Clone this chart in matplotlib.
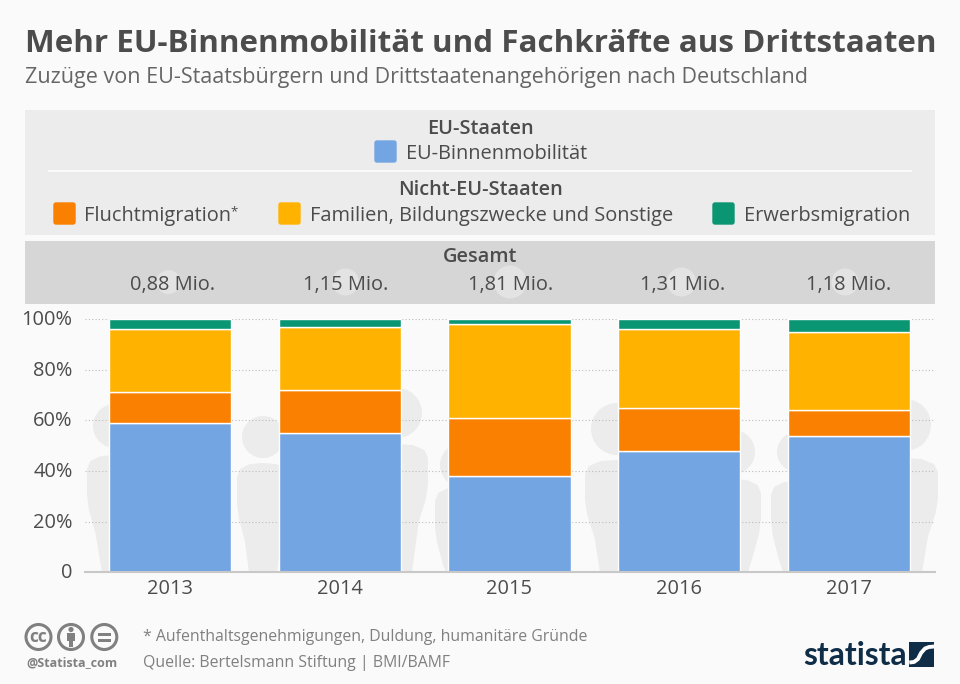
#!/usr/bin/env python3
"""Stacked share of migration to Germany by type, 2013-2017."""

import matplotlib
matplotlib.use("Agg")
import matplotlib.pyplot as plt
import numpy as np
from matplotlib.patches import Circle, FancyBboxPatch, Polygon, Rectangle
from matplotlib.transforms import Affine2D

plt.rcParams["font.family"] = ["Open Sans", "DejaVu Sans"]

years = ["2013", "2014", "2015", "2016", "2017"]
totals = ["0,88 Mio.", "1,15 Mio.", "1,81 Mio.", "1,31 Mio.", "1,18 Mio."]
eu_binnen = [59, 55, 38, 48, 54]
flucht = [12, 17, 23, 17, 10]
familien = [25, 25, 37, 31, 31]
erwerb = [4, 3, 2, 4, 5]
series_names = ["EU-Binnenmobilität", "Fluchtmigration", "Familien, Bildungszwecke und Sonstige", "Erwerbsmigration"]
colors = ["#74a5e3", "#f98000", "#ffb300", "#0b9673"]
y_ticks = [0, 20, 40, 60, 80, 100]
y_labels = ["0", "20%", "40%", "60%", "80%", "100%"]

BG = "#fafafa"
DARK = "#4c4c4c"
GREY = "#808080"
NAVY = "#0f2d47"
W, H = 960, 684
BASE = 572.3

fig = plt.figure(figsize=(W / 100, H / 100), dpi=100, facecolor=BG)

# overlay in pixel coordinates for the panels and all the loose text
bg = fig.add_axes([0, 0, 1, 1], zorder=0)
bg.set_xlim(0, W)
bg.set_ylim(H, 0)
bg.axis("off")
top = fig.add_axes([0, 0, 1, 1], zorder=3)
top.set_xlim(0, W)
top.set_ylim(H, 0)
top.axis("off")


def person(ax, cx, head_y, head_r, sh, hw, bw):
    """Grey silhouette behind the bars."""
    ax.add_patch(Circle((cx, head_y), head_r, color="#ececec", lw=0))
    right = [
        (0, sh), (0.5 * hw, sh + 1), (0.88 * hw, sh + 6), (hw, sh + 14), (hw, sh + 40),
        (0.93 * hw, sh + 55), (0.7 * hw, sh + 78), (bw, BASE),
    ]
    pts = [(cx + dx, y) for dx, y in right]
    pts += [(cx - dx, y) for dx, y in reversed(right[1:])]
    ax.add_patch(Polygon(pts, closed=True, color="#ececec", lw=0))


person(bg, 115, 426, 22, 455, 28, 13)
person(bg, 263, 437, 21, 463, 26, 14)
person(bg, 397, 413, 25, 444, 31, 15)
person(bg, 462, 465, 22, 487, 27, 16)
person(bg, 617, 429, 26, 460, 32, 17)
person(bg, 733, 452, 22, 479, 28, 15)
person(bg, 797, 452, 20, 481, 26, 14)
person(bg, 905, 425, 26, 458, 33, 17)

# panels
bg.add_patch(Rectangle((25, 110), 910, 125, color="#ececec", lw=0))
bg.plot([49, 911], [171, 171], color="#fafafa", lw=1.5)
bg.add_patch(Rectangle((25, 241), 910, 62.5, color="#d6d6d6", lw=0))
for cx, cy, r in [(168.5, 282, 12), (345.5, 282, 13.5), (510, 282, 16.5), (681.5, 282, 14.5), (845, 282, 13.5)]:
    bg.add_patch(Circle((cx, cy), r, color="#e3e3e3", lw=0))

# chart
ax = fig.add_axes([85 / W, 1 - BASE / H, 850 / W, (BASE - 319) / H], zorder=2)
ax.patch.set_alpha(0)
x = np.arange(len(years))
bottom = np.zeros(len(years))
for vals, name, col in zip([eu_binnen, flucht, familien, erwerb], series_names, colors):
    ax.bar(x, vals, width=0.72, bottom=bottom, color=col, edgecolor="white",
           linewidth=1, label=name, zorder=3)
    bottom += np.array(vals)

ax.set_xlim(-0.503, 4.509)
ax.set_ylim(0, 100)
ax.set_xticks(x)
ax.set_xticklabels(years, fontsize=14.4, color=DARK)
ax.set_yticks(y_ticks)
ax.set_yticklabels(y_labels, fontsize=14.4, color=DARK)
ax.tick_params(axis="both", length=0, pad=5)
ax.tick_params(axis="y", pad=9)
# the y labels sit a bit above their gridlines
for label in ax.get_yticklabels():
    label.set_transform(label.get_transform() + Affine2D().translate(0, 1.5))
ax.grid(axis="y", color="#bdbdbd", linestyle=(0, (1, 2)), linewidth=0.8, zorder=1)
for s in ["top", "right", "left"]:
    ax.spines[s].set_visible(False)
ax.spines["bottom"].set_color("#c8c8c8")
ax.spines["bottom"].set_linewidth(1.5)
ax.spines["bottom"].set_zorder(4)

# header
top.text(25, 43.5, "Mehr EU-Binnenmobilität und Fachkräfte aus Drittstaaten", fontsize=22.55,
         fontweight="bold", color=DARK, va="center", ha="left")
top.text(25, 78, "Zuzüge von EU-Staatsbürgern und Drittstaatenangehörigen nach Deutschland",
         fontsize=15.45, color="#666666", va="center", ha="left")


def swatch(px, py, col):
    top.add_patch(FancyBboxPatch((px + 1, py + 1), 21, 21, boxstyle="round,pad=0,rounding_size=2",
                                 facecolor=col, edgecolor=col, lw=1))


def legend_text(px, py, s, **kw):
    top.text(px, py, s, fontsize=14.4, color=DARK, va="center", **kw)


# legend
legend_text(480, 129, "EU-Staaten", ha="center", fontweight="semibold")
swatch(374, 140, colors[0])
legend_text(406.5, 154, series_names[0])
legend_text(480, 190, "Nicht-EU-Staaten", ha="center", fontweight="semibold")
swatch(53, 202, colors[1])
legend_text(84.5, 216, series_names[1])
top.text(230.5, 212, "*", fontsize=9.5, color=DARK, va="center")
swatch(278, 202, colors[2])
legend_text(310, 216, series_names[2])
swatch(712, 202, colors[3])
legend_text(744.5, 216, series_names[3])

# totals
legend_text(480, 257, "Gesamt", ha="center", fontweight="semibold")
for xc, label in zip([172.5, 345.5, 511, 682.5, 848.5], totals):
    legend_text(xc, 285, label, ha="center")

# footer
top.text(143, 637, "* Aufenthaltsgenehmigungen, Duldung, humanitäre Gründe", fontsize=11.47,
         color=GREY, va="center")
top.text(143, 663, "Quelle: Bertelsmann Stiftung | BMI/BAMF", fontsize=11.47, color=GREY, va="center")
top.text(26, 663, "@Statista_com", fontsize=9, fontweight="bold", color=GREY, va="center")

# cc icons
for cx in [38.5, 71, 104.3]:
    top.add_patch(Circle((cx, 637), 12.5, facecolor="none", edgecolor=GREY, lw=2.2))
top.text(38.5, 636.5, "cc", fontsize=12.5, fontweight="bold", color=GREY, ha="center", va="center")
top.add_patch(Circle((71, 629.5), 2.6, color=GREY, lw=0))
top.add_patch(Rectangle((67, 633), 8, 7.5, color=GREY, lw=0))
top.add_patch(Rectangle((69, 640), 4, 6.5, color=GREY, lw=0))
top.add_patch(Rectangle((98, 632.5), 12.5, 3, color=GREY, lw=0))
top.add_patch(Rectangle((98, 638.5), 12.5, 3, color=GREY, lw=0))

# logo
top.text(803.5, 655.5, "statista", fontsize=22.9, fontweight="bold", color=NAVY, va="center",
         family=["Liberation Sans Narrow", "Lato"])
top.add_patch(Rectangle((909.3, 642), 25, 24.5, color=NAVY, lw=0))
swoosh_x = [909.3, 914, 918, 921, 925, 929, 934.3]
swoosh_y = [662.5, 662, 659, 653, 648.5, 647, 646.5]
top.plot(swoosh_x, swoosh_y, color="white", lw=2.8, solid_capstyle="butt")

fig.savefig("out.png", dpi=100, facecolor=BG)
